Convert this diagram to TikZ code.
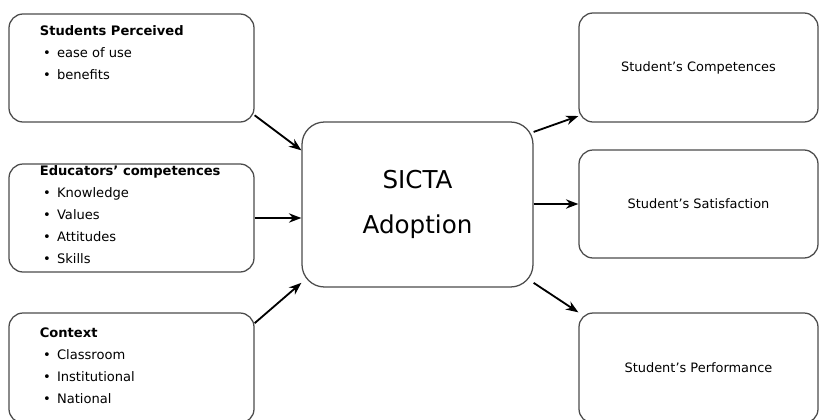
\documentclass[tikz,border=0pt]{standalone}
\usepackage{fontspec}
\setmainfont{DejaVu Sans}
\usetikzlibrary{positioning,arrows.meta,calc}

\newcommand{\itm}[1]{\hspace*{0.08cm}\makebox[0.35cm][l]{\textbullet}#1}

\begin{document}
\begin{tikzpicture}[
  >=Stealth,
  box/.style={draw=black!70, line width=0.9pt, rectangle, rounded corners=10pt,
              minimum width=6.125cm, minimum height=2.7cm},
  outbox/.style={draw=black!70, line width=0.9pt, rectangle, rounded corners=10pt,
                 minimum width=5.975cm, minimum height=2.7cm,
                 font=\fontsize{9.2}{11}\selectfont},
  core/.style={draw=black!70, line width=0.9pt, rectangle, rounded corners=16pt,
               minimum width=5.775cm, minimum height=4.125cm, align=center,
               font=\fontsize{17.5}{32}\selectfont},
  lst/.style={anchor=north west, inner sep=0pt, align=left,
              font=\fontsize{9.3}{15.6}\selectfont},
  link/.style={->, line width=1.3pt}
]
\useasboundingbox (0,0) rectangle (20.475,-10.475);

% ---- Column positions ----
\def\xA{3.2875}   % factors col
\def\xB{10.4375}  % adoption col
\def\xC{17.4625}  % outcomes col

% ---- Factors ----
\node[box] (perc) at (\xA,-1.7) {};
\node[box] (edu)  at (\xA,-5.45) {};
\node[box, minimum height=2.75cm] (ctx) at (\xA,-9.2) {};

\node[lst] (perctxt) at ($(perc.north west)+(0.78,-0.31)$)
    {\textbf{Students Perceived}\\\itm{ease of use}\\\itm{benefits}};
\node[lst] (edutxt) at ($(edu.north west)+(0.78,-0.06)$)
    {\textbf{Educators’ competences}\\\itm{Knowledge}\\\itm{Values}\\\itm{Attitudes}\\\itm{Skills}};
\node[lst] (ctxtxt) at ($(ctx.north west)+(0.78,-0.38)$)
    {\textbf{Context}\\\itm{Classroom}\\\itm{Institutional}\\\itm{National}};

% ---- Adoption ----
\node[core] (sicta) at (\xB,-5.1125) {SICTA\\Adoption};

% ---- Outcomes ----
\node[outbox, minimum height=2.725cm] (comp) at (\xC,-1.6875) {Student’s Competences};
\node[outbox] (satis) at (\xC,-5.1) {Student’s Satisfaction};
\node[outbox, minimum height=2.75cm] (perf) at (\xC,-9.2) {Student’s Performance};

% ---- Arrows: factors -> adoption ----
\draw[link] (perc.339) -- (sicta.155);
\draw[link] (edu.east) -- (edu.east -| sicta.west);
\draw[link] (ctx.20) -- (sicta.214);

% ---- Arrows: adoption -> outcomes ----
\draw[link] (sicta.32) -- (comp.202);
\draw[link] (satis.west -| sicta.east) -- (satis.west);
\draw[link] (sicta.326) -- (perf.north west);

\end{tikzpicture}
\end{document}
